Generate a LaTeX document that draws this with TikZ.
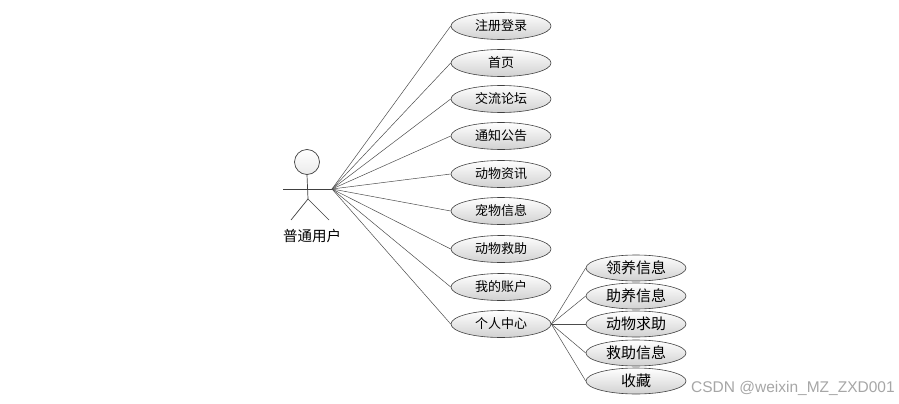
\documentclass[tikz,border=0pt]{standalone}
\usepackage{fontspec}
\newfontfamily\cjk{Noto Sans CJK SC}
\newfontfamily\wm{Liberation Sans}
\usetikzlibrary{shapes.geometric}
\begin{document}
\begin{tikzpicture}[x=1pt,y=-1pt,
  uc/.style={ellipse,draw=black!75,line width=0.6pt,top color=white,bottom color=black!18,
    minimum width=100pt,minimum height=27pt,inner sep=0pt,font=\cjk\fontsize{13}{13}\selectfont},
  ucs/.style={uc,minimum height=26pt,font=\cjk\fontsize{15}{15}\selectfont},
  link/.style={draw=black!70,line width=0.5pt},
  actorline/.style={draw=black!75,line width=0.7pt}]
\useasboundingbox (0,0) rectangle (899,404);
% actor
\node[circle,draw=black!75,line width=0.7pt,top color=white,bottom color=black!8,minimum size=25pt,inner sep=0pt] (head) at (307,162) {};
\coordinate (hip) at (308,199);
\coordinate (larm) at (283,189);
\coordinate (hand) at (332,189);
\coordinate (lfoot) at (291,220);
\coordinate (rfoot) at (329,220);
\draw[actorline] (head.south) -- (hip);
\draw[actorline] (larm) -- (hand);
\draw[actorline] (lfoot) -- (hip) -- (rfoot);
\node[font=\cjk\fontsize{14.5}{14.5}\selectfont] (actor) at (312,236) {普通用户};
% use cases
\node[uc] (u1) at (501,26) {注册登录};
\node[uc] (u2) at (501,63) {首页};
\node[uc] (u3) at (501,99) {交流论坛};
\node[uc] (u4) at (501,136) {通知公告};
\node[uc] (u5) at (501,174) {动物资讯};
\node[uc] (u6) at (501,211) {宠物信息};
\node[uc] (u7) at (501,249) {动物救助};
\node[uc] (u8) at (501,287) {我的账户};
\node[uc] (u9) at (501,324) {个人中心};
\foreach \i in {1,...,9}{\draw[link] (hand) -- (u\i.west);}
\node[ucs] (s1) at (636,268) {领养信息};
\node[ucs] (s2) at (636,296) {助养信息};
\node[ucs] (s3) at (636,324) {动物求助};
\node[ucs] (s4) at (636,353) {救助信息};
\node[ucs] (s5) at (636,381) {收藏};
\foreach \i in {1,...,5}{\draw[link] (u9.east) -- (s\i.west);}
\node[font=\wm\fontsize{15.5}{15.5}\selectfont,text=black!35,anchor=west,inner sep=0pt] (wm) at (691,388) {CSDN @weixin\_MZ\_ZXD001};
\end{tikzpicture}
\end{document}
